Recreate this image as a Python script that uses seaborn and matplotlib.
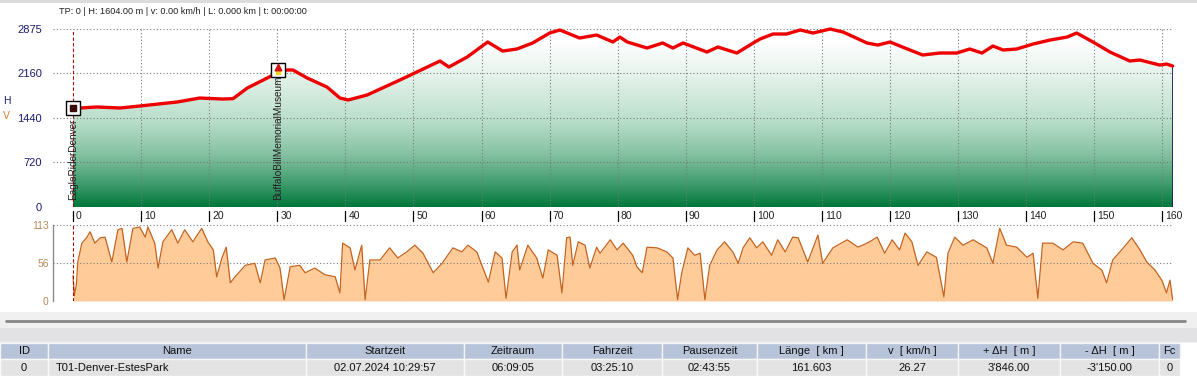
import matplotlib
matplotlib.use("Agg")
import matplotlib.pyplot as plt
import matplotlib.transforms as mtransforms
from matplotlib.colors import LinearSegmentedColormap
from matplotlib.patches import Rectangle
import numpy as np
import pandas as pd
import seaborn as sns

# ---- data ----
km_elev = [0, 1.0, 3.5, 6.9, 9.8, 15.3, 18.6, 22.0, 23.5, 25.6, 29.4, 30.8, 32.3, 34.4,
           37.3, 39.2, 40.4, 43.2, 48.0, 53.9, 55.2, 57.9, 60.9, 63.1, 65.2, 67.5,
           70.0, 71.5, 74.4, 76.9, 79.3, 80.3, 81.4, 84.3, 86.6, 88.1, 89.6, 93.1,
           94.7, 97.5, 99.9, 100.9, 102.8, 104.8, 106.8, 108.7, 111.2, 113.1, 116.6,
           118.2, 120.0, 122.9, 124.8, 127.3, 129.8, 131.7, 133.5, 135.1, 136.6,
           138.6, 141.0, 143.5, 146.0, 147.4, 149.8, 152.3, 155.2, 156.7, 159.6,
           160.6, 161.5]
elev = [1604, 1599, 1615, 1599, 1631, 1696, 1760, 1744, 1750, 1922, 2132, 2213, 2213, 2083,
        1938, 1760, 1728, 1809, 2051, 2358, 2261, 2423, 2665, 2519, 2552, 2649,
        2810, 2859, 2729, 2778, 2665, 2745, 2665, 2568, 2649, 2568, 2649, 2503,
        2584, 2487, 2649, 2713, 2794, 2794, 2859, 2810, 2875, 2826, 2649,
        2616, 2665, 2536, 2455, 2487, 2487, 2552, 2487, 2600, 2536,
        2552, 2632, 2697, 2745, 2810, 2665, 2503, 2358, 2374, 2293,
        2309, 2277]

km_speed = [0, 0.2, 0.5, 0.7, 1.3, 2.0, 2.5, 3.2, 4.0, 4.7,
            5.7, 6.6, 7.2, 7.9, 8.8, 9.8, 10.6, 11.0, 12.0, 12.5,
            13.2, 14.5, 15.4, 16.4, 17.6, 18.9, 19.8, 20.6, 21.1, 21.9,
            22.5, 23.1, 23.8, 25.3, 26.7, 27.5, 28.2, 29.7, 30.4, 31.0,
            31.9, 33.3, 34.1, 35.5, 37.0, 38.5, 39.2, 39.6, 40.7, 41.4,
            42.4, 42.9, 43.6, 45.1, 46.5, 47.7,
            49.0, 50.2, 51.4, 52.9, 54.2, 55.8, 57.1, 58.0, 59.3, 61.0,
            62.0, 63.0, 63.6, 64.5, 65.2, 65.6, 66.8, 68.1, 69.0, 69.8,
            71.1, 71.8, 72.5, 73.0, 73.4, 74.2, 75.2, 75.9, 76.9,
            77.4, 78.9, 79.9, 80.8, 82.2, 82.8, 83.6, 84.3, 85.8, 87.2,
            88.1, 88.8, 89.4, 90.3, 91.3, 92.1, 92.8, 93.5, 94.6, 95.7,
            96.9, 97.7, 98.4, 99.4, 100.4, 101.3, 102.6, 103.5, 104.6, 105.7,
            106.5,
            107.9, 109.4, 110.1, 111.6, 113.7, 115.3, 117.0, 118.1, 119.2, 120.3,
            121.4, 122.2, 123.2, 124.1, 125.4, 126.8, 127.9, 128.5, 129.5, 130.7,
            132.2, 134.2, 135.1, 136.1, 137.1, 138.6, 140.1, 141.0, 141.7, 142.4,
            143.9, 145.4, 146.9, 148.3, 149.8, 151.1, 151.8, 152.7, 154.0, 155.5,
            156.7, 157.7, 158.9, 159.9, 160.6, 161.1, 161.5]
speed = [38, 8, 25, 58, 86, 94, 103, 86, 94, 95,
         58, 106, 108, 58, 108, 110, 95, 110, 86, 49,
         88, 106, 86, 106, 88, 108, 88, 76, 36, 65,
         80, 27, 36, 53, 56, 27, 61, 64, 49, 2,
         51, 53, 42, 49, 39, 36, 12, 86, 79, 46,
         83, 2, 61, 61, 79, 64,
         73, 83, 71, 42, 56, 79, 73, 83, 73, 28,
         73, 64, 4, 73, 83, 46, 83, 64, 34, 76,
         68, 12, 94, 95, 53, 88, 83, 49, 80,
         71, 91, 76, 86, 68, 51, 42, 80, 79, 73,
         64, 2, 42, 79, 68, 71, 2, 53, 76, 88,
         73, 56, 79, 94, 79, 88, 68, 91, 73, 95,
         94,
         58, 98, 56, 79, 91, 80, 88, 95, 71, 91,
         76, 101, 88, 53, 73, 65, 6, 71, 95, 83,
         91, 79, 56, 108, 83, 80, 65, 71, 4, 86,
         86, 76, 88, 86, 56, 46, 27, 61, 76, 94,
         76, 58, 46, 31, 12, 31, 2]

km_ticks = list(range(0, 161, 10))
h_ticks = [0, 720, 1440, 2160, 2875]
v_ticks = [0, 56, 113]

wp_km = [0, 30.1]
wp_h = [1604, 2213]
wp_names = ["EagleRiderDenver", "BuffaloBillMemorialMuseum"]

info_text = "TP: 0 | H: 1604.00 m | v: 0.00 km/h | L: 0.000 km | t: 00:00:00"

table_header = ["ID", "Name", "Startzeit", "Zeitraum", "Fahrzeit", "Pausenzeit",
                "Länge  [ km ]", "v  [ km/h ]", "+ ΔH  [ m ]", "- ΔH  [ m ]", "Fc"]
table_values = ["0", "T01-Denver-EstesPark", "02.07.2024 10:29:57", "06:09:05",
                "03:25:10", "02:43:55", "161.603", "26.27", "3'846.00", "-3'150.00", "0"]
col_edges = [0, 48, 306, 464, 562, 662, 757, 866, 958, 1060, 1159, 1180]

# ---- style ----
sns.set_style("white")
plt.rcParams['font.family'] = ['Liberation Sans Narrow', 'Liberation Sans', 'DejaVu Sans']

W, H = 1197, 376
fig = plt.figure(figsize=(W / 100, H / 100), dpi=100)


def px_axes(left, top, right, bottom):
    return fig.add_axes([left / W, 1 - bottom / H, (right - left) / W, (bottom - top) / H])


def fx(px):
    return px / W


def fy(py):
    return 1 - py / H


xlim = (-2.94, 161.55)
grid_kw = dict(color='#7a7a7a', lw=0.8, ls=(0, (1, 2)), zorder=3)

# ---- elevation panel ----
ax = px_axes(53, 29, 1173, 207)
ax.set_xlim(*xlim)
ax.set_ylim(0, 2875)

green = LinearSegmentedColormap.from_list(
    'elev', [(0.0, '#00773a'), (0.12, '#3b9a6a'), (0.3, '#86c2a3'),
             (0.5, '#bde0cd'), (0.75, '#e6f3ec'), (0.93, '#ffffff'), (1.0, '#ffffff')])
grad = np.linspace(0, 1, 256).reshape(-1, 1)
im = ax.imshow(grad, cmap=green, origin='lower', aspect='auto',
               extent=[xlim[0], xlim[1], 0, 2875], zorder=1)
poly = ax.fill_between(km_elev, elev, 0, color='none', lw=0)
im.set_clip_path(poly.get_paths()[0], transform=ax.transData)

for k in km_ticks[1:]:
    ax.axvline(k, **grid_kw)
for h in h_ticks:
    ax.axhline(h, **grid_kw)

elev_df = pd.DataFrame({'km': km_elev, 'elev': elev})
sns.lineplot(data=elev_df, x='km', y='elev', color='#ee0000', lw=2.4, ax=ax,
             zorder=5, clip_on=False)
ax.plot([km_elev[-1], km_elev[-1]], [0, elev[-1]], color='#101050', lw=1.2, zorder=4)
ax.axvline(0, color='#b00000', lw=0.8, ls=(0, (3, 2)), zorder=6)

# waypoints
ax.scatter(wp_km, wp_h, marker='s', s=95, facecolor='white', edgecolor='black',
           linewidth=1.0, zorder=7, clip_on=False)
ax.scatter([wp_km[0]], [wp_h[0]], marker='s', s=14, color='#3a0a0a', zorder=8)
ax.scatter([wp_km[1]], [wp_h[1] - 40], marker='s', s=12, color='#f2d21a', zorder=8)
ax.scatter([wp_km[1]], [wp_h[1] + 50], marker='^', s=22, color='#d01010', zorder=8)
for k, name in zip(wp_km, wp_names):
    ax.text(k, 105, name, rotation=90, ha='center', va='bottom', fontsize=7.2,
            color='#202020', zorder=8)

ax.set_yticks(h_ticks)
ax.set_yticklabels([str(h) for h in h_ticks], color='#1c1c70', fontsize=8,
                   family=['Liberation Sans', 'DejaVu Sans'])
ax.tick_params(axis='y', length=0, pad=8)
ax.set_xticks([])
ax.set_xlabel('')
ax.set_ylabel('')
for s in ax.spines.values():
    s.set_visible(False)

# km tick marks and labels below the elevation panel
trans = mtransforms.blended_transform_factory(ax.transData, ax.transAxes)
for k in km_ticks:
    ax.plot([k, k], [-0.022, -0.08], transform=trans, color='black', lw=0.9, clip_on=False)
    ax.text(k + 0.45, -0.052, str(k), transform=trans, ha='left', va='center',
            fontsize=7.5, color='#202020')

# ---- speed panel ----
ax2 = px_axes(53, 225, 1173, 301)
ax2.set_xlim(*xlim)
ax2.set_ylim(0, 113)
for v in v_ticks:
    ax2.axhline(v, **grid_kw)
ax2.fill_between(km_speed, speed, 0, color='#ffcc99', lw=0, zorder=1)
speed_df = pd.DataFrame({'km': km_speed, 'v': speed})
sns.lineplot(data=speed_df, x='km', y='v', color='#c4631d', lw=0.9, ax=ax2, zorder=4)
ax2.axvline(0, color='#b00000', lw=0.8, ls=(0, (3, 2)), zorder=6)
ax2.set_yticks(v_ticks)
ax2.set_yticklabels([str(v) for v in v_ticks], color='#b88a5a', fontsize=7.5)
ax2.tick_params(axis='y', length=0, pad=3)
ax2.set_xticks([])
ax2.set_xlabel('')
ax2.set_ylabel('')
for name, s in ax2.spines.items():
    s.set_visible(name == 'left')
ax2.spines['left'].set_color('#8a8a8a')
ax2.spines['left'].set_linewidth(1.0)

# ---- labels and frame ----
fig.patches.append(Rectangle((0, fy(3)), 1, 3 / H, transform=fig.transFigure,
                             facecolor='#dcdcdc', lw=0))
fig.text(fx(59), fy(12), info_text, fontsize=6.6, color='#202020', va='center', ha='left')
fig.text(fx(3), fy(101), "H", fontsize=7.5, color='#1c1c70', va='center')
fig.text(fx(3), fy(116), "V", fontsize=7.5, color='#d07a30', va='center')

# ---- separator and table ----
fig.patches.append(Rectangle((0, fy(343)), 1, 31 / H, transform=fig.transFigure,
                             facecolor='#f0f0f0', lw=0))
fig.patches.append(Rectangle((0, fy(342)), 1, 14 / H, transform=fig.transFigure,
                             facecolor='#e2e2e4', lw=0))
fig.add_artist(plt.Line2D([fx(6), fx(1185)], [fy(321), fy(321)], color='#858585', lw=2.0))

for i in range(len(table_header)):
    x0, x1 = col_edges[i], col_edges[i + 1]
    fig.patches.append(Rectangle((fx(x0), fy(359)), fx(x1 - x0), 16 / H,
                                 transform=fig.transFigure, facecolor='#b7c3d8',
                                 edgecolor='#f4f4f4', lw=1.0))
    fig.patches.append(Rectangle((fx(x0), fy(376)), fx(x1 - x0), 17 / H,
                                 transform=fig.transFigure, facecolor='#e3e3e3',
                                 edgecolor='#f8f8f8', lw=1.0))
    fig.text(fx((x0 + x1) / 2), fy(351), table_header[i], fontsize=8, ha='center',
             va='center', color='#101010')
    if i == 1:
        fig.text(fx(x0 + 8), fy(368), table_values[i], fontsize=8, ha='left',
                 va='center', color='#101010')
    else:
        fig.text(fx((x0 + x1) / 2), fy(368), table_values[i], fontsize=8, ha='center',
                 va='center', color='#101010')

fig.savefig("out.png", dpi=100)
